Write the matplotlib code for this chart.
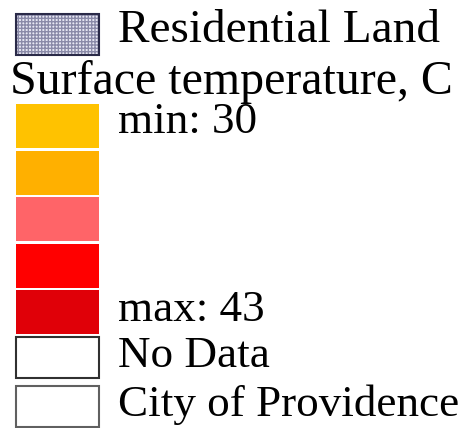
import matplotlib
matplotlib.use("Agg")
import matplotlib.pyplot as plt
from matplotlib.patches import Rectangle

# Legend data
temp_title = "Surface temperature, C"
temp_colors = ["#ffc200", "#ffb000", "#ff6468", "#ff0000", "#e00008"]
temp_labels = ["min: 30", "", "", "", "max: 43"]
other_labels = ["No Data", "City of Providence"]
other_edges = ["#303030", "#606060"]
residential_label = "Residential Land"

plt.rcParams['font.family'] = ['Liberation Serif', 'DejaVu Serif']

fig = plt.figure(figsize=(4.68, 4.28), dpi=100)
ax = fig.add_axes([0, 0, 1, 1])
ax.set_xlim(0, 468)
ax.set_ylim(428, 0)
ax.axis('off')

fs = 32.5
sx, sw = 16, 83

# residential land swatch (hatched)
ax.add_patch(Rectangle((sx, 14), sw, 41, facecolor="#e8e8f4", edgecolor="#8a8aa8",
                       hatch="+++++", linewidth=0))
ax.add_patch(Rectangle((sx, 14), sw, 41, facecolor="none", edgecolor="#2a2a48", linewidth=1.5))
ax.text(118, 31, residential_label, fontsize=34, va='center', ha='left', color='black')

ax.text(10, 82, temp_title, fontsize=34.5, va='center', ha='left', color='black')

# temperature classes
tops = [104, 151, 197, 244, 290]
offs = [18, 0, 0, 0, 20]
for top, c, lab, off in zip(tops, temp_colors, temp_labels, offs):
    ax.add_patch(Rectangle((sx, top), sw, 44, facecolor=c, edgecolor="none"))
    if lab:
        ax.text(118, top + off, lab, fontsize=fs, va='center', ha='left', color='black')

# other classes
other_tops = [337, 386]
for top, lab, ec in zip(other_tops, other_labels, other_edges):
    ax.add_patch(Rectangle((sx, top), sw, 41, facecolor="white", edgecolor=ec, linewidth=1.5))
    ax.text(118, top + 19, lab, fontsize=fs, va='center', ha='left', color='black')

fig.savefig("out.png", dpi=100, facecolor="white")
